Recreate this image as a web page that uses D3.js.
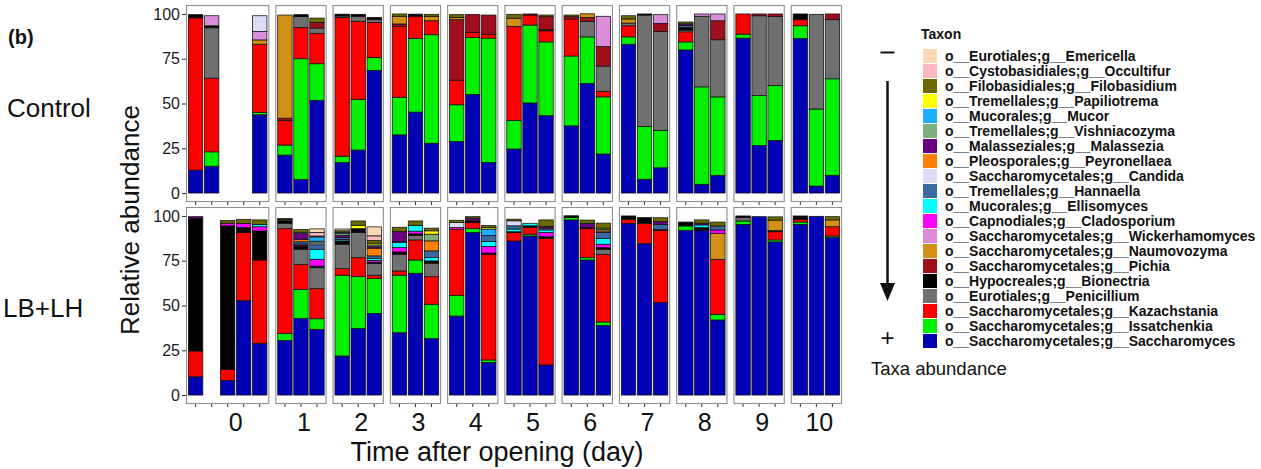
<!DOCTYPE html>
<html>
<head>
<meta charset="utf-8">
<script src="https://cdn.jsdelivr.net/npm/d3@7"></script>
<style>
  body { margin: 0; background: #fff; }
  svg { font-family: "Liberation Sans", Arial, Helvetica, sans-serif; }
</style>
</head>
<body>
<svg id="chart" width="1261" height="469"></svg>
<script>
// legend order (top of legend = top of stack)
const taxa = [
  "o__Eurotiales;g__Emericella", "o__Cystobasidiales;g__Occultifur", "o__Filobasidiales;g__Filobasidium",
  "o__Tremellales;g__Papiliotrema", "o__Mucorales;g__Mucor", "o__Tremellales;g__Vishniacozyma",
  "o__Malasseziales;g__Malassezia", "o__Pleosporales;g__Peyronellaea", "o__Saccharomycetales;g__Candida",
  "o__Tremellales;g__Hannaella", "o__Mucorales;g__Ellisomyces", "o__Capnodiales;g__Cladosporium",
  "o__Saccharomycetales;g__Wickerhamomyces", "o__Saccharomycetales;g__Naumovozyma", "o__Saccharomycetales;g__Pichia",
  "o__Hypocreales;g__Bionectria", "o__Eurotiales;g__Penicillium", "o__Saccharomycetales;g__Kazachstania",
  "o__Saccharomycetales;g__Issatchenkia", "o__Saccharomycetales;g__Saccharomyces"
];
const codes = ["Eme","Occ","Fil","Pap","Muc","Vis","Mal","Pey","Can","Han","Ell","Cla","Wic","Nau","Pic","Bio","Pen","Kaz","Iss","Sac"];
const colors = ["#fcd9b6","#ffb8c2","#6b6b00","#ffff00","#1eaeff","#7db07d","#6a0080","#ff7f00","#dcdcf6","#3c6aa0",
                "#00ffff","#ff00ff","#da8eda","#d39017","#a10e1b","#000000","#707070","#ff0000","#00f000","#0000b4"];

const days = [0,1,2,3,4,5,6,7,8,9,10];
const daySlots = [5,3,3,3,3,3,3,3,3,3,3];
const treatments = ["Control", "LB+LH"];
const yTicks = [0,25,50,75,100];

// [day, slot, relative abundance (%) by taxon]
const controlBars = [
  [0,1,{Sac:12.8,Kaz:85,Bio:1.8}],
  [0,2,{Sac:15,Iss:8,Kaz:41.2,Pen:28.1,Bio:1.1,Wic:5.6}],
  [0,5,{Sac:43.7,Iss:1.3,Kaz:38.1,Nau:2.4,Wic:4.7,Can:8.8}],
  [1,1,{Sac:21.2,Iss:5.6,Kaz:13.7,Pic:1.3,Nau:57.6}],
  [1,2,{Sac:7.5,Iss:67.5,Kaz:17.5,Pen:6,Bio:1.1}],
  [1,3,{Sac:51.8,Iss:20.4,Kaz:16.9,Pen:3,Pic:3.2,Fil:2.4}],
  [2,1,{Sac:17,Iss:3.6,Kaz:77.5,Pen:0.8,Bio:1}],
  [2,2,{Sac:24,Iss:28.2,Kaz:43.7,Pen:2.8,Bio:1.1}],
  [2,3,{Sac:68.5,Iss:7.1,Kaz:19.7,Pen:1.5,Bio:1.3}],
  [3,1,{Sac:32.5,Iss:21,Kaz:39.6,Pic:1.3,Nau:4.3,Fil:1.3}],
  [3,2,{Sac:45.2,Iss:41.1,Kaz:12.4,Bio:1.2}],
  [3,3,{Sac:27.8,Iss:60.6,Kaz:7.8,Nau:2.5,Fil:1.1}],
  [4,1,{Sac:28.7,Iss:20.6,Kaz:13.7,Pic:33.8,Nau:1.3,Fil:1.5}],
  [4,2,{Sac:55,Iss:31.9,Kaz:2.8,Pic:10}],
  [4,3,{Sac:17.1,Iss:69.4,Kaz:2.2,Pic:10.7}],
  [5,1,{Sac:24.6,Iss:15.9,Kaz:52.6,Nau:4.5,Fil:2.2}],
  [5,2,{Sac:50.3,Iss:43.5,Kaz:5.6,Pic:0.6}],
  [5,3,{Sac:43.2,Iss:41.2,Kaz:6.2,Bio:0.6,Pic:7.3,Fil:0.9}],
  [6,1,{Sac:37.5,Iss:39,Kaz:20.7,Pic:1.3,Fil:0.9}],
  [6,2,{Sac:61.2,Iss:26,Pen:8.7,Pic:2.2,Nau:2}],
  [6,3,{Sac:21.8,Iss:31.9,Kaz:3.1,Pen:14.1,Pic:10.9,Wic:16.9}],
  [7,1,{Sac:83.1,Iss:4.1,Kaz:6.2,Pen:1.5,Nau:2.3,Fil:1.8}],
  [7,2,{Sac:7.7,Iss:29.4,Pen:62.3,Bio:0.6}],
  [7,3,{Sac:14.1,Iss:20.8,Pen:55.3,Pic:4.5,Wic:4.9}],
  [8,1,{Sac:79.9,Iss:4.5,Kaz:5.6,Pen:1,Bio:1.5,Han:1,Mal:1,Fil:1}],
  [8,2,{Sac:4.9,Iss:54.4,Pen:39.4,Wic:1.3}],
  [8,3,{Sac:9.9,Iss:43.8,Pen:31.9,Pic:10.6,Wic:3.8}],
  [9,1,{Sac:86.5,Iss:2.2,Kaz:11.3}],
  [9,2,{Sac:26.5,Iss:27.9,Pen:44.6,Pic:1}],
  [9,3,{Sac:29.3,Iss:30.7,Pen:38.5,Pic:1.5}],
  [10,1,{Sac:86.3,Iss:7.1,Kaz:3.4,Bio:3.2}],
  [10,2,{Sac:3.9,Iss:43,Pen:52.9}],
  [10,3,{Sac:9.9,Iss:53.9,Pen:33,Pic:3.2}]
];

const lblhBars = [
  [0,1,{Sac:10.2,Kaz:14.4,Bio:74.1,Mal:0.9}],
  [0,3,{Sac:8.2,Kaz:6.1,Bio:80.2,Cla:1.5,Fil:1.5}],
  [0,4,{Sac:52.7,Kaz:38,Bio:2.8,Cla:2.4,Fil:2.2}],
  [0,5,{Sac:28.9,Kaz:46.5,Bio:16.2,Cla:2.4,Ell:1.3,Fil:2.5}],
  [1,1,{Sac:30.5,Iss:3.8,Kaz:58.6,Pen:3,Bio:1.5,Pey:0.6,Fil:0.6}],
  [1,2,{Sac:42.8,Iss:16.2,Kaz:14,Pen:8.4,Bio:1.8,Cla:0.6,Ell:0.6,Han:1.2,Pey:1.2,Mal:3.3,Vis:0.8,Fil:1.5}],
  [1,3,{Sac:36.7,Iss:5.9,Kaz:16.8,Pen:11.7,Bio:0.9,Cla:3.8,Ell:5.6,Han:2.5,Can:1,Muc:2.4,Vis:1,Pap:0.5,Occ:2,Eme:2}],
  [2,1,{Sac:21.8,Iss:45.1,Kaz:3.7,Pen:13.6,Bio:1.9,Ell:0.8,Han:1,Mal:1.2,Vis:1,Muc:0.6,Fil:1,Eme:1}],
  [2,2,{Sac:37.1,Iss:29,Kaz:10.6,Pen:14,Bio:2.2,Pap:1.9,Fil:2.4}],
  [2,3,{Sac:45.6,Iss:19.4,Kaz:1.9,Pen:6.5,Bio:0.8,Cla:1,Ell:1,Han:1.5,Pey:4.3,Mal:0.8,Vis:1,Pap:1,Fil:1.5,Occ:2.6,Eme:5}],
  [3,1,{Sac:34.8,Iss:32.1,Kaz:2.4,Pen:9.3,Bio:1.3,Cla:2.4,Ell:2.8,Han:0.6,Mal:5.6,Fil:2.4}],
  [3,2,{Sac:68,Iss:7.4,Kaz:11.2,Pen:2.6,Bio:0.8,Cla:1.5,Ell:3.3,Fil:2.4}],
  [3,3,{Sac:31.5,Iss:19.2,Kaz:15.4,Pen:7.5,Bio:1.3,Ell:1.9,Han:3.7,Pey:5.6,Vis:3.7,Pap:1.9,Fil:1.5}],
  [4,1,{Sac:44.1,Iss:11.6,Kaz:36.9,Cla:0.9,Can:2.8,Fil:1.3}],
  [4,2,{Sac:90.7,Iss:2.2,Kaz:3.4,Bio:1,Mal:1.5,Fil:0.8}],
  [4,3,{Sac:18.1,Iss:1.5,Kaz:59,Bio:0.7,Cla:3.7,Ell:2.8,Han:3.2,Muc:3.7,Pap:1,Fil:0.9}],
  [5,1,{Sac:86,Kaz:4.7,Bio:0.5,Ell:1.5,Han:1.8,Can:2.8,Fil:0.9}],
  [5,2,{Sac:88.8,Iss:1,Kaz:3.7,Bio:1,Ell:1.4}],
  [5,3,{Sac:16.8,Kaz:70.7,Bio:0.9,Cla:2.3,Ell:1.5,Han:1,Mal:1,Fil:3.6}],
  [6,1,{Sac:97.8,Iss:1.3,Bio:1}],
  [6,2,{Sac:75.4,Iss:1.3,Kaz:16.2,Bio:0.6,Mal:2.4,Fil:1.8}],
  [6,3,{Sac:38.9,Iss:1.9,Kaz:37.8,Pen:2.8,Bio:0.9,Cla:1.9,Ell:3.2,Han:3.4,Pey:0.8,Vis:0.8,Pap:0.8,Fil:2.8}],
  [7,1,{Sac:95.9,Kaz:2.2,Bio:1.9}],
  [7,2,{Sac:84.5,Kaz:11.4,Bio:3.2}],
  [7,3,{Sac:51.6,Kaz:40.4,Bio:0.5,Han:2.8,Mal:1.5,Fil:2.2}],
  [8,1,{Sac:92,Iss:2.4,Bio:2.2}],
  [8,2,{Sac:92,Bio:1.5,Ell:1.5,Mal:1,Fil:1.8}],
  [8,3,{Sac:41.9,Iss:3.2,Kaz:30.7,Nau:14.5,Cla:1.9,Han:2.2,Fil:2.2}],
  [9,1,{Sac:95.3,Iss:1.9,Pen:1.9,Bio:0.9}],
  [9,2,{Sac:99.6}],
  [9,3,{Sac:85.5,Iss:1.1,Kaz:4.6,Bio:0.6,Nau:5.9,Fil:1.8}],
  [10,1,{Sac:95.3,Iss:1.3,Kaz:1.5,Bio:1.9}],
  [10,2,{Sac:99.8}],
  [10,3,{Sac:87.9,Iss:0.9,Kaz:5.2,Nau:3.8,Fil:1.8}]
];

const barsByTreatment = [controlBars, lblhBars];

var svg = d3.select("#chart");

var plotLeft = 186, plotRight = 842, gap = 6,
    plotTop = 5, rowH = 197, rowGap = 5;

var color = d3.scaleOrdinal().domain(codes).range(colors);

// facet columns, width proportional to number of slots (ggplot space="free")
var units = d3.sum(daySlots, n => n + 0.2);
var unit = (plotRight - plotLeft - gap * (days.length - 1)) / units;
var cx = plotLeft;
var panels = days.map(function(d, i){
  var w = (daySlots[i] + 0.2) * unit;
  var p = { day: d, x: cx, w: w };
  p.xScale = d3.scaleBand()
    .domain(d3.range(1, daySlots[i] + 1))
    .range([cx, cx + w])
    .paddingInner(0.1)
    .paddingOuter(0.15);
  cx += w + gap;
  return p;
});

var stackOrder = codes.slice().reverse(); // Saccharomyces at the bottom

treatments.forEach(function(t, r){
  var top = plotTop + r * (rowH + rowGap), bottom = top + rowH;
  var y = d3.scaleLinear().domain([-5, 105]).range([bottom, top]);
  var g = svg.append("g").attr("class", "row");

  // panel backgrounds
  g.selectAll("rect.bg").data(panels).enter().append("rect")
    .attr("x", p => p.x).attr("y", top).attr("width", p => p.w).attr("height", rowH)
    .attr("fill", "#fff");

  // segments
  var segs = [];
  barsByTreatment[r].forEach(function(b){
    var p = panels[days.indexOf(b[0])];
    var acc = 0;
    stackOrder.forEach(function(c){
      var v = b[2][c];
      if (!v) return;
      segs.push({ p: p, slot: b[1], code: c, y0: acc, y1: acc + v });
      acc += v;
    });
  });
  g.append("g").selectAll("rect").data(segs).enter().append("rect")
    .attr("x", d => d.p.xScale(d.slot))
    .attr("width", d => d.p.xScale.bandwidth())
    .attr("y", d => y(d.y1))
    .attr("height", d => y(d.y0) - y(d.y1))
    .attr("fill", d => color(d.code))
    .attr("stroke", "#111")
    .attr("stroke-width", 0.75);

  // panel borders
  g.selectAll("rect.border").data(panels).enter().append("rect")
    .attr("x", p => p.x + 0.5).attr("y", top + 0.5).attr("width", p => p.w - 1).attr("height", rowH - 1)
    .attr("fill", "none").attr("stroke", "#8f8f8f").attr("stroke-width", 1.1);

  // y axis
  var ya = g.append("g").attr("transform", "translate(" + plotLeft + ",0)")
    .call(d3.axisLeft(y).tickValues(yTicks).tickSize(4).tickPadding(2));
  ya.select(".domain").remove();
  ya.selectAll("line").attr("stroke", "#333");
  ya.selectAll("text").attr("font-size", 16).attr("fill", "#1a1a1a").attr("font-family", null);

  // x ticks (no labels)
  panels.forEach(function(p){
    var xa = g.append("g").attr("transform", "translate(0," + bottom + ")")
      .call(d3.axisBottom(p.xScale).tickSize(3).tickFormat(""));
    xa.select(".domain").remove();
    xa.selectAll("line").attr("stroke", "#333");
  });

  // treatment label
  svg.append("text").attr("x", r === 0 ? 7 : 3).attr("y", r === 0 ? 117 : 317)
    .attr("font-size", 26).attr("fill", "#111").text(t);
});

// day labels
svg.append("g").selectAll("text").data(panels).enter().append("text")
  .attr("x", p => p.x + p.w / 2 + (p.day === 0 ? 8 : 3))
  .attr("y", 431)
  .attr("text-anchor", "middle")
  .attr("font-size", 25)
  .attr("fill", "#111")
  .text(p => p.day);

svg.append("text").attr("x", 497).attr("y", 461).attr("text-anchor", "middle")
  .attr("font-size", 27).attr("fill", "#111").text("Time after opening (day)");

svg.append("text").attr("transform", "translate(139,220) rotate(-90)")
  .attr("text-anchor", "middle").attr("font-size", 26).attr("fill", "#111")
  .text("Relative abundance");

svg.append("text").attr("x", 8).attr("y", 44).attr("font-size", 20)
  .attr("font-weight", "bold").attr("fill", "#111").text("(b)");

// legend
var lg = svg.append("g").attr("transform", "translate(923,49)");
lg.append("text").attr("x", -2).attr("y", -10).attr("font-size", 14)
  .attr("font-weight", "bold").attr("fill", "#111").text("Taxon");
var items = lg.selectAll("g.item").data(taxa).enter().append("g")
  .attr("transform", (d, i) => "translate(0," + (i * 15) + ")");
items.append("rect").attr("width", 14).attr("height", 14)
  .attr("fill", (d, i) => colors[i]);
items.append("text").attr("x", 22).attr("y", 7).attr("dy", "0.36em")
  .attr("font-size", 14).attr("font-weight", "bold").attr("fill", "#111")
  .text(d => d);

// abundance arrow
var ax = 887.5;
svg.append("line").attr("x1", 880.5).attr("x2", 894.5).attr("y1", 52.5).attr("y2", 52.5)
  .attr("stroke", "#111").attr("stroke-width", 2);
svg.append("line").attr("x1", ax).attr("x2", ax).attr("y1", 81).attr("y2", 286)
  .attr("stroke", "#111").attr("stroke-width", 2.5);
svg.append("path").attr("d", "M" + (ax - 7.5) + ",283L" + (ax + 7.5) + ",283L" + ax + ",301Z")
  .attr("fill", "#111");
svg.append("text").attr("x", ax).attr("y", 346).attr("text-anchor", "middle")
  .attr("font-size", 24).attr("fill", "#111").text("+");
svg.append("text").attr("x", 871).attr("y", 375).attr("font-size", 18.5)
  .attr("fill", "#111").text("Taxa abundance");
</script>
</body>
</html>
